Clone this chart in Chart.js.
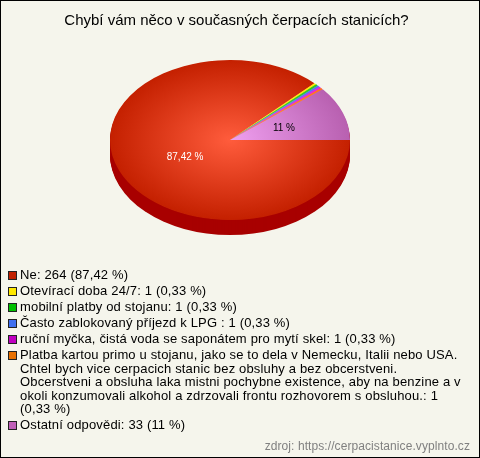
<!DOCTYPE html>
<html>
<head>
<meta charset="utf-8">
<script src="https://cdn.jsdelivr.net/npm/chart.js@4"></script>
<style>
  html, body { margin: 0; padding: 0; background: #f5f5ec; }
  #frame { position: relative; width: 480px; height: 458px; box-sizing: border-box; border: 1px solid #000; overflow: hidden; }
  #chart { position: absolute; left: -1px; top: -1px; }
  #legend { position: absolute; left: 7px; top: 267px; width: 460px; font: 13px/13.5px "Liberation Sans", Arial, sans-serif; letter-spacing: 0.16px; color: #000; }
  #legend .item { position: relative; padding-left: 12px; margin-bottom: 2.5px; }
  #legend .sw { position: absolute; left: 0; top: 3px; width: 7px; height: 7px; border: 1px solid #222; }
  #source { position: absolute; right: 9px; top: 438px; font: 12px "Liberation Sans", Arial, sans-serif; letter-spacing: 0.08px; color: #808080; }
</style>
</head>
<body>
<div id="frame">
  <canvas id="chart" width="480" height="458"></canvas>
  <div id="legend"></div>
  <div id="source">zdroj: https://cerpacistanice.vyplnto.cz</div>
</div>
<script>
const chartTitle = 'Chybí vám něco v současných čerpacích stanicích?';
const labels = [
  'Ne',
  'Otevírací doba 24/7',
  'mobilní platby od stojanu',
  'Často zablokovaný příjezd k LPG ',
  'ruční myčka, čistá voda se saponátem pro mytí skel',
  'Platba kartou primo u stojanu, jako se to dela v Nemecku, Italii nebo USA.\nChtel bych vice cerpacich stanic bez obsluhy a bez obcerstveni.\nObcerstveni a obsluha laka mistni pochybne existence, aby na benzine a v\nokoli konzumovali alkohol a zdrzovali frontu rozhovorem s obsluhou.',
  'Ostatní odpovědi',
];
const counts = [264, 1, 1, 1, 1, 1, 33];
const percents = ['87,42 %', '0,33 %', '0,33 %', '0,33 %', '0,33 %', '0,33 %', '11 %'];
const swatches = ['#c02000', '#ffe800', '#00c000', '#4070f0', '#c000c0', '#e87000', '#c060b8'];
const centers = ['#ff5c3c', '#ffff40', '#40ff40', '#70a0ff', '#f040f0', '#ffa040', '#f0a0f0'];
const edges = ['#c42000', '#ffee00', '#20d020', '#5070ff', '#e020e0', '#ff7020', '#b860b0'];
const labelColors = ['#fff', null, null, null, null, null, '#000'];

// ─── Flattened pie ───────────────────────────────────────────────────────

const PIE_X = 230, PIE_Y = 140, SQUASH = 2 / 3, DEPTH = 15;

function pieGradient(c) {
  const a = c.chart.chartArea;
  if (!a) return swatches[c.dataIndex];
  const x = (a.left + a.right) / 2, y = (a.top + a.bottom) / 2;
  const g = c.chart.ctx.createRadialGradient(x, y, 0, x, y, 120);
  g.addColorStop(0, centers[c.dataIndex]);
  g.addColorStop(1, edges[c.dataIndex]);
  return g;
}

const flatPie = {
  id: 'flatPie',
  beforeDatasetsDraw(chart) {
    const ctx = chart.ctx, arc = chart.getDatasetMeta(0).data[0];
    ctx.save();
    ctx.translate(PIE_X, PIE_Y);
    ctx.scale(1, SQUASH);
    ctx.translate(-arc.x, -arc.y);
    // rim: the same circle pushed down a pixel at a time
    ctx.fillStyle = '#a80000';
    for (let d = DEPTH; d > 0; d--) {
      ctx.beginPath();
      ctx.arc(arc.x, arc.y + d / SQUASH, arc.outerRadius, 0, Math.PI * 2);
      ctx.fill();
    }
    // light backing so the dark rim doesn't show through the slice seams
    ctx.fillStyle = '#e87868';
    ctx.beginPath();
    ctx.arc(arc.x, arc.y, arc.outerRadius - 1, 0, Math.PI * 2);
    ctx.fill();
  },
  afterDatasetsDraw(chart) {
    const ctx = chart.ctx;
    ctx.restore();
    ctx.save();
    ctx.font = '10px "Liberation Sans", Arial, sans-serif';
    ctx.textAlign = 'center';
    ctx.textBaseline = 'middle';
    chart.getDatasetMeta(0).data.forEach((arc, i) => {
      if (!labelColors[i]) return;
      const mid = (arc.startAngle + arc.endAngle) / 2;
      ctx.fillStyle = labelColors[i];
      ctx.fillText(percents[i], PIE_X + 4 + Math.cos(mid) * 53, PIE_Y + 2 + Math.sin(mid) * 40);
    });
    ctx.restore();
  },
};

new Chart(document.getElementById('chart'), {
  type: 'pie',
  data: { labels, datasets: [{ data: counts, backgroundColor: pieGradient, borderWidth: 0, radius: 120 }] },
  options: {
    responsive: false,
    animation: false,
    rotation: 90,
    events: [],
    layout: { padding: { right: 7 } },
    plugins: {
      legend: { display: false },
      tooltip: { enabled: false },
      title: {
        display: true,
        text: chartTitle,
        color: '#000',
        font: { family: '"Liberation Sans", Arial, sans-serif', size: 15, weight: 'normal' },
        padding: { top: 12, bottom: 10 },
      },
    },
  },
  plugins: [flatPie],
});

// ─── Legend ──────────────────────────────────────────────────────────────

document.getElementById('legend').innerHTML = labels.map((l, i) =>
  `<div class="item"><span class="sw" style="background:${swatches[i]}"></span>${l.replace(/\n/g, '<br>')}: ${counts[i]} (${percents[i]})</div>`
).join('');
</script>
</body>
</html>
